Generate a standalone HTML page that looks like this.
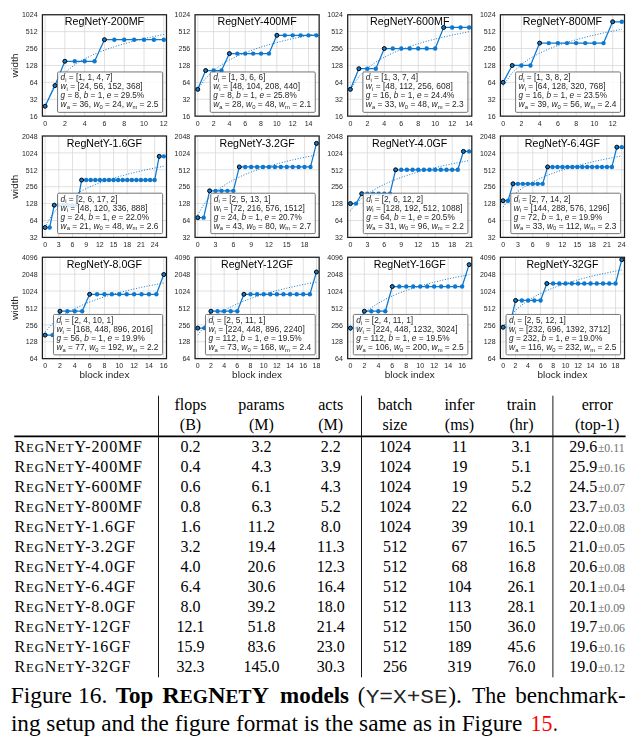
<!DOCTYPE html>
<html><head><meta charset="utf-8"><title>Figure 16</title>
<style>
html,body{margin:0;padding:0;background:#fff;}
svg{display:block;}
text{font-family:"Liberation Sans",sans-serif;fill:#111;}
.gr{stroke:#d6d6d6;stroke-width:.75;fill:none}
.dt{fill:none;stroke:#0e78cf;stroke-width:1;stroke-dasharray:1 1.7}
.ln{fill:none;stroke:#0e78cf;stroke-width:1.25;stroke-linejoin:round}
.mk{fill:#0e78cf;stroke:#000;stroke-width:1}
.mb{fill:#0e78cf}
.sp{fill:none;stroke:#1c1c1c;stroke-width:1.25}
.lb{fill:#fff;fill-opacity:.85;stroke:#666;stroke-width:.9}
.tt{font-size:10.2px;text-anchor:middle;fill:#000}
.tk{font-size:6.5px;text-anchor:middle;fill:#262626}
.te{text-anchor:end}
.al{font-size:8.8px;text-anchor:middle;fill:#1c1c1c}
.lg{font-size:8.2px;fill:#262626}
.it{font-style:italic}
.sb{font-size:5.7px}
.tb,.cp,.pm{font-family:"Liberation Serif",serif;fill:#000}
.tb{font-size:16px}
.m{text-anchor:middle}
.e{text-anchor:end}
.sc{font-size:12.8px}
.pm{font-size:11.8px;fill:#707070}
.hr{stroke:#000;stroke-width:1.9;fill:none}
.vr{stroke:#1a1a1a;stroke-width:1;fill:none}
.cp{font-size:23.5px}
.bd{font-weight:bold}
.sc2{font-size:18.8px}
.mn{font-family:"Liberation Mono",monospace;font-size:19.6px;fill:#262626}
.rd{fill:#f00}
</style></head>
<body>
<svg width="642" height="388" viewBox="0 0 642 388" style="will-change:opacity">
<g>
<path class="gr" d="M45.1 14.75V116.15M64.88 14.75V116.15M84.67 14.75V116.15M104.45 14.75V116.15M124.23 14.75V116.15M144.02 14.75V116.15M163.8 14.75V116.15M42.4 99.25H166.5M42.4 82.35H166.5M42.4 65.45H166.5M42.4 48.55H166.5M42.4 31.65H166.5"/>
<polyline class="dt" points="45.1,106.26 54.99,83.92 64.88,72.46 74.78,64.7 84.67,58.82 94.56,54.09 104.45,50.12 114.34,46.72 124.23,43.73 134.12,41.06 144.02,38.66 153.91,36.48 163.8,34.47"/>
<polyline class="ln" points="45.1,106.26 54.99,85.61 64.88,61.26 74.78,61.26 84.67,61.26 94.56,61.26 104.45,39.7 114.34,39.7 124.23,39.7 134.12,39.7 144.02,39.7 153.91,39.7 163.8,39.7"/>
<circle class="mk" cx="45.1" cy="106.26" r="2"/>
<circle class="mk" cx="54.99" cy="85.61" r="2"/>
<circle class="mk" cx="64.88" cy="61.26" r="2"/>
<circle class="mb" cx="74.78" cy="61.26" r="2.2"/>
<circle class="mb" cx="84.67" cy="61.26" r="2.2"/>
<circle class="mb" cx="94.56" cy="61.26" r="2.2"/>
<circle class="mk" cx="104.45" cy="39.7" r="2"/>
<circle class="mb" cx="114.34" cy="39.7" r="2.2"/>
<circle class="mb" cx="124.23" cy="39.7" r="2.2"/>
<circle class="mb" cx="134.12" cy="39.7" r="2.2"/>
<circle class="mb" cx="144.02" cy="39.7" r="2.2"/>
<circle class="mb" cx="153.91" cy="39.7" r="2.2"/>
<circle class="mb" cx="163.8" cy="39.7" r="2.2"/>
<rect class="lb" x="57.58" y="71.95" width="105.02" height="40.4" rx="1.2" ry="1.2"/>
<text class="lg" x="60.58" y="80.45" textLength="52.11" lengthAdjust="spacingAndGlyphs"><tspan class="it">d</tspan><tspan class="sb" dy="1.6">i</tspan><tspan dy="-1.6"> = [1, 1, 4, 7]</tspan></text>
<text class="lg" x="60.58" y="89.45" textLength="82.11" lengthAdjust="spacingAndGlyphs"><tspan class="it">w</tspan><tspan class="sb" dy="1.6">i</tspan><tspan dy="-1.6"> = [24, 56, 152, 368]</tspan></text>
<text class="lg" x="60.58" y="98.45" textLength="83.59" lengthAdjust="spacingAndGlyphs"><tspan class="it">g</tspan> = 8, <tspan class="it">b</tspan> = 1, <tspan class="it">e</tspan> = 29.5%</text>
<text class="lg" x="60.58" y="107.45" textLength="97.92" lengthAdjust="spacingAndGlyphs"><tspan class="it">w</tspan><tspan class="sb" dy="1.6">a</tspan><tspan dy="-1.6"> = 36, </tspan><tspan class="it">w</tspan><tspan class="sb" dy="1.6">0</tspan><tspan dy="-1.6"> = 24, </tspan><tspan class="it">w</tspan><tspan class="sb" dy="1.6">m</tspan><tspan dy="-1.6"> = 2.5</tspan></text>
<rect class="sp" x="42.4" y="14.75" width="124.1" height="101.4"/>
<text class="tt" x="104.45" y="25.35" textLength="79.34" lengthAdjust="spacingAndGlyphs">RegNetY-200MF</text>
<text class="tk te" x="37.6" y="118.85" textLength="7.83" lengthAdjust="spacingAndGlyphs">16</text>
<text class="tk te" x="37.6" y="101.95" textLength="7.83" lengthAdjust="spacingAndGlyphs">32</text>
<text class="tk te" x="37.6" y="85.05" textLength="7.83" lengthAdjust="spacingAndGlyphs">64</text>
<text class="tk te" x="37.6" y="68.15" textLength="11.74" lengthAdjust="spacingAndGlyphs">128</text>
<text class="tk te" x="37.6" y="51.25" textLength="11.74" lengthAdjust="spacingAndGlyphs">256</text>
<text class="tk te" x="37.6" y="34.35" textLength="11.74" lengthAdjust="spacingAndGlyphs">512</text>
<text class="tk te" x="37.6" y="17.45" textLength="15.65" lengthAdjust="spacingAndGlyphs">1024</text>
<text class="tk" x="45.1" y="125.55" textLength="3.91" lengthAdjust="spacingAndGlyphs">0</text>
<text class="tk" x="64.88" y="125.55" textLength="3.91" lengthAdjust="spacingAndGlyphs">2</text>
<text class="tk" x="84.67" y="125.55" textLength="3.91" lengthAdjust="spacingAndGlyphs">4</text>
<text class="tk" x="104.45" y="125.55" textLength="3.91" lengthAdjust="spacingAndGlyphs">6</text>
<text class="tk" x="124.23" y="125.55" textLength="3.91" lengthAdjust="spacingAndGlyphs">8</text>
<text class="tk" x="144.02" y="125.55" textLength="7.83" lengthAdjust="spacingAndGlyphs">10</text>
<text class="tk" x="163.8" y="125.55" textLength="7.83" lengthAdjust="spacingAndGlyphs">12</text>
<text class="al" transform="translate(18.3 65.45) rotate(-90)" textLength="24.12" lengthAdjust="spacingAndGlyphs">width</text>
</g>
<g>
<path class="gr" d="M197.75 14.75V116.15M213.58 14.75V116.15M229.4 14.75V116.15M245.23 14.75V116.15M261.06 14.75V116.15M276.88 14.75V116.15M292.71 14.75V116.15M308.54 14.75V116.15M195.05 99.25H319.15M195.05 82.35H319.15M195.05 65.45H319.15M195.05 48.55H319.15M195.05 31.65H319.15"/>
<polyline class="dt" points="197.75,89.36 205.66,78.16 213.58,70.51 221.49,64.7 229.4,60.01 237.32,56.08 245.23,52.69 253.14,49.72 261.06,47.07 268.97,44.68 276.88,42.51 284.8,40.51 292.71,38.66 300.62,36.95 308.54,35.35 316.45,33.84"/>
<polyline class="ln" points="197.75,89.36 205.66,70.51 213.58,70.51 221.49,70.51 229.4,53.61 237.32,53.61 245.23,53.61 253.14,53.61 261.06,53.61 268.97,53.61 276.88,35.35 284.8,35.35 292.71,35.35 300.62,35.35 308.54,35.35 316.45,35.35"/>
<circle class="mk" cx="197.75" cy="89.36" r="2"/>
<circle class="mk" cx="205.66" cy="70.51" r="2"/>
<circle class="mb" cx="213.58" cy="70.51" r="2.2"/>
<circle class="mb" cx="221.49" cy="70.51" r="2.2"/>
<circle class="mk" cx="229.4" cy="53.61" r="2"/>
<circle class="mb" cx="237.32" cy="53.61" r="2.2"/>
<circle class="mb" cx="245.23" cy="53.61" r="2.2"/>
<circle class="mb" cx="253.14" cy="53.61" r="2.2"/>
<circle class="mb" cx="261.06" cy="53.61" r="2.2"/>
<circle class="mb" cx="268.97" cy="53.61" r="2.2"/>
<circle class="mk" cx="276.88" cy="35.35" r="2"/>
<circle class="mb" cx="284.8" cy="35.35" r="2.2"/>
<circle class="mb" cx="292.71" cy="35.35" r="2.2"/>
<circle class="mb" cx="300.62" cy="35.35" r="2.2"/>
<circle class="mb" cx="308.54" cy="35.35" r="2.2"/>
<circle class="mb" cx="316.45" cy="35.35" r="2.2"/>
<rect class="lb" x="210.23" y="71.95" width="105.02" height="40.4" rx="1.2" ry="1.2"/>
<text class="lg" x="213.23" y="80.45" textLength="52.11" lengthAdjust="spacingAndGlyphs"><tspan class="it">d</tspan><tspan class="sb" dy="1.6">i</tspan><tspan dy="-1.6"> = [1, 3, 6, 6]</tspan></text>
<text class="lg" x="213.23" y="89.45" textLength="86.89" lengthAdjust="spacingAndGlyphs"><tspan class="it">w</tspan><tspan class="sb" dy="1.6">i</tspan><tspan dy="-1.6"> = [48, 104, 208, 440]</tspan></text>
<text class="lg" x="213.23" y="98.45" textLength="83.52" lengthAdjust="spacingAndGlyphs"><tspan class="it">g</tspan> = 8, <tspan class="it">b</tspan> = 1, <tspan class="it">e</tspan> = 25.8%</text>
<text class="lg" x="213.23" y="107.45" textLength="97.92" lengthAdjust="spacingAndGlyphs"><tspan class="it">w</tspan><tspan class="sb" dy="1.6">a</tspan><tspan dy="-1.6"> = 28, </tspan><tspan class="it">w</tspan><tspan class="sb" dy="1.6">0</tspan><tspan dy="-1.6"> = 48, </tspan><tspan class="it">w</tspan><tspan class="sb" dy="1.6">m</tspan><tspan dy="-1.6"> = 2.1</tspan></text>
<rect class="sp" x="195.05" y="14.75" width="124.1" height="101.4"/>
<text class="tt" x="257.1" y="25.35" textLength="79.34" lengthAdjust="spacingAndGlyphs">RegNetY-400MF</text>
<text class="tk te" x="190.25" y="118.85" textLength="7.83" lengthAdjust="spacingAndGlyphs">16</text>
<text class="tk te" x="190.25" y="101.95" textLength="7.83" lengthAdjust="spacingAndGlyphs">32</text>
<text class="tk te" x="190.25" y="85.05" textLength="7.83" lengthAdjust="spacingAndGlyphs">64</text>
<text class="tk te" x="190.25" y="68.15" textLength="11.74" lengthAdjust="spacingAndGlyphs">128</text>
<text class="tk te" x="190.25" y="51.25" textLength="11.74" lengthAdjust="spacingAndGlyphs">256</text>
<text class="tk te" x="190.25" y="34.35" textLength="11.74" lengthAdjust="spacingAndGlyphs">512</text>
<text class="tk te" x="190.25" y="17.45" textLength="15.65" lengthAdjust="spacingAndGlyphs">1024</text>
<text class="tk" x="197.75" y="125.55" textLength="3.91" lengthAdjust="spacingAndGlyphs">0</text>
<text class="tk" x="213.58" y="125.55" textLength="3.91" lengthAdjust="spacingAndGlyphs">2</text>
<text class="tk" x="229.4" y="125.55" textLength="3.91" lengthAdjust="spacingAndGlyphs">4</text>
<text class="tk" x="245.23" y="125.55" textLength="3.91" lengthAdjust="spacingAndGlyphs">6</text>
<text class="tk" x="261.06" y="125.55" textLength="3.91" lengthAdjust="spacingAndGlyphs">8</text>
<text class="tk" x="276.88" y="125.55" textLength="7.83" lengthAdjust="spacingAndGlyphs">10</text>
<text class="tk" x="292.71" y="125.55" textLength="7.83" lengthAdjust="spacingAndGlyphs">12</text>
<text class="tk" x="308.54" y="125.55" textLength="7.83" lengthAdjust="spacingAndGlyphs">14</text>
</g>
<g>
<path class="gr" d="M350.4 14.75V116.15M367.36 14.75V116.15M384.31 14.75V116.15M401.27 14.75V116.15M418.23 14.75V116.15M435.19 14.75V116.15M452.14 14.75V116.15M469.1 14.75V116.15M347.7 99.25H471.8M347.7 82.35H471.8M347.7 65.45H471.8M347.7 48.55H471.8M347.7 31.65H471.8"/>
<polyline class="dt" points="350.4,89.36 358.88,76.61 367.36,68.27 375.84,62.08 384.31,57.14 392.79,53.03 401.27,49.52 409.75,46.45 418.23,43.73 426.71,41.28 435.19,39.05 443.66,37.01 452.14,35.12 460.62,33.38 469.1,31.75"/>
<polyline class="ln" points="350.4,89.36 358.88,68.71 367.36,68.71 375.84,68.71 384.31,48.55 392.79,48.55 401.27,48.55 409.75,48.55 418.23,48.55 426.71,48.55 435.19,48.55 443.66,27.46 452.14,27.46 460.62,27.46 469.1,27.46"/>
<circle class="mk" cx="350.4" cy="89.36" r="2"/>
<circle class="mk" cx="358.88" cy="68.71" r="2"/>
<circle class="mb" cx="367.36" cy="68.71" r="2.2"/>
<circle class="mb" cx="375.84" cy="68.71" r="2.2"/>
<circle class="mk" cx="384.31" cy="48.55" r="2"/>
<circle class="mb" cx="392.79" cy="48.55" r="2.2"/>
<circle class="mb" cx="401.27" cy="48.55" r="2.2"/>
<circle class="mb" cx="409.75" cy="48.55" r="2.2"/>
<circle class="mb" cx="418.23" cy="48.55" r="2.2"/>
<circle class="mb" cx="426.71" cy="48.55" r="2.2"/>
<circle class="mb" cx="435.19" cy="48.55" r="2.2"/>
<circle class="mk" cx="443.66" cy="27.46" r="2"/>
<circle class="mb" cx="452.14" cy="27.46" r="2.2"/>
<circle class="mb" cx="460.62" cy="27.46" r="2.2"/>
<circle class="mb" cx="469.1" cy="27.46" r="2.2"/>
<rect class="lb" x="362.88" y="71.95" width="105.02" height="40.4" rx="1.2" ry="1.2"/>
<text class="lg" x="365.88" y="80.45" textLength="52.11" lengthAdjust="spacingAndGlyphs"><tspan class="it">d</tspan><tspan class="sb" dy="1.6">i</tspan><tspan dy="-1.6"> = [1, 3, 7, 4]</tspan></text>
<text class="lg" x="365.88" y="89.45" textLength="86.89" lengthAdjust="spacingAndGlyphs"><tspan class="it">w</tspan><tspan class="sb" dy="1.6">i</tspan><tspan dy="-1.6"> = [48, 112, 256, 608]</tspan></text>
<text class="lg" x="365.88" y="98.45" textLength="88.49" lengthAdjust="spacingAndGlyphs"><tspan class="it">g</tspan> = 16, <tspan class="it">b</tspan> = 1, <tspan class="it">e</tspan> = 24.4%</text>
<text class="lg" x="365.88" y="107.45" textLength="97.92" lengthAdjust="spacingAndGlyphs"><tspan class="it">w</tspan><tspan class="sb" dy="1.6">a</tspan><tspan dy="-1.6"> = 33, </tspan><tspan class="it">w</tspan><tspan class="sb" dy="1.6">0</tspan><tspan dy="-1.6"> = 48, </tspan><tspan class="it">w</tspan><tspan class="sb" dy="1.6">m</tspan><tspan dy="-1.6"> = 2.3</tspan></text>
<rect class="sp" x="347.7" y="14.75" width="124.1" height="101.4"/>
<text class="tt" x="409.75" y="25.35" textLength="79.34" lengthAdjust="spacingAndGlyphs">RegNetY-600MF</text>
<text class="tk te" x="342.9" y="118.85" textLength="7.83" lengthAdjust="spacingAndGlyphs">16</text>
<text class="tk te" x="342.9" y="101.95" textLength="7.83" lengthAdjust="spacingAndGlyphs">32</text>
<text class="tk te" x="342.9" y="85.05" textLength="7.83" lengthAdjust="spacingAndGlyphs">64</text>
<text class="tk te" x="342.9" y="68.15" textLength="11.74" lengthAdjust="spacingAndGlyphs">128</text>
<text class="tk te" x="342.9" y="51.25" textLength="11.74" lengthAdjust="spacingAndGlyphs">256</text>
<text class="tk te" x="342.9" y="34.35" textLength="11.74" lengthAdjust="spacingAndGlyphs">512</text>
<text class="tk te" x="342.9" y="17.45" textLength="15.65" lengthAdjust="spacingAndGlyphs">1024</text>
<text class="tk" x="350.4" y="125.55" textLength="3.91" lengthAdjust="spacingAndGlyphs">0</text>
<text class="tk" x="367.36" y="125.55" textLength="3.91" lengthAdjust="spacingAndGlyphs">2</text>
<text class="tk" x="384.31" y="125.55" textLength="3.91" lengthAdjust="spacingAndGlyphs">4</text>
<text class="tk" x="401.27" y="125.55" textLength="3.91" lengthAdjust="spacingAndGlyphs">6</text>
<text class="tk" x="418.23" y="125.55" textLength="3.91" lengthAdjust="spacingAndGlyphs">8</text>
<text class="tk" x="435.19" y="125.55" textLength="7.83" lengthAdjust="spacingAndGlyphs">10</text>
<text class="tk" x="452.14" y="125.55" textLength="7.83" lengthAdjust="spacingAndGlyphs">12</text>
<text class="tk" x="469.1" y="125.55" textLength="7.83" lengthAdjust="spacingAndGlyphs">14</text>
</g>
<g>
<path class="gr" d="M503.1 14.75V116.15M521.36 14.75V116.15M539.62 14.75V116.15M557.88 14.75V116.15M576.15 14.75V116.15M594.41 14.75V116.15M612.67 14.75V116.15M500.4 99.25H624.5M500.4 82.35H624.5M500.4 65.45H624.5M500.4 48.55H624.5M500.4 31.65H624.5"/>
<polyline class="dt" points="503.1,85.61 512.23,72.72 521.36,64.33 530.49,58.1 539.62,53.15 548.75,49.03 557.88,45.51 567.02,42.43 576.15,39.7 585.28,37.25 594.41,35.01 603.54,32.97 612.67,31.09 621.8,29.33"/>
<polyline class="ln" points="503.1,82.35 512.23,65.45 521.36,65.45 530.49,65.45 539.62,43.11 548.75,43.11 557.88,43.11 567.02,43.11 576.15,43.11 585.28,43.11 594.41,43.11 603.54,43.11 612.67,21.76 621.8,21.76"/>
<circle class="mk" cx="503.1" cy="82.35" r="2"/>
<circle class="mk" cx="512.23" cy="65.45" r="2"/>
<circle class="mb" cx="521.36" cy="65.45" r="2.2"/>
<circle class="mb" cx="530.49" cy="65.45" r="2.2"/>
<circle class="mk" cx="539.62" cy="43.11" r="2"/>
<circle class="mb" cx="548.75" cy="43.11" r="2.2"/>
<circle class="mb" cx="557.88" cy="43.11" r="2.2"/>
<circle class="mb" cx="567.02" cy="43.11" r="2.2"/>
<circle class="mb" cx="576.15" cy="43.11" r="2.2"/>
<circle class="mb" cx="585.28" cy="43.11" r="2.2"/>
<circle class="mb" cx="594.41" cy="43.11" r="2.2"/>
<circle class="mb" cx="603.54" cy="43.11" r="2.2"/>
<circle class="mk" cx="612.67" cy="21.76" r="2"/>
<circle class="mb" cx="621.8" cy="21.76" r="2.2"/>
<rect class="lb" x="515.58" y="71.95" width="105.02" height="40.4" rx="1.2" ry="1.2"/>
<text class="lg" x="518.58" y="80.45" textLength="52.11" lengthAdjust="spacingAndGlyphs"><tspan class="it">d</tspan><tspan class="sb" dy="1.6">i</tspan><tspan dy="-1.6"> = [1, 3, 8, 2]</tspan></text>
<text class="lg" x="518.58" y="89.45" textLength="86.89" lengthAdjust="spacingAndGlyphs"><tspan class="it">w</tspan><tspan class="sb" dy="1.6">i</tspan><tspan dy="-1.6"> = [64, 128, 320, 768]</tspan></text>
<text class="lg" x="518.58" y="98.45" textLength="88.49" lengthAdjust="spacingAndGlyphs"><tspan class="it">g</tspan> = 16, <tspan class="it">b</tspan> = 1, <tspan class="it">e</tspan> = 23.5%</text>
<text class="lg" x="518.58" y="107.45" textLength="97.92" lengthAdjust="spacingAndGlyphs"><tspan class="it">w</tspan><tspan class="sb" dy="1.6">a</tspan><tspan dy="-1.6"> = 39, </tspan><tspan class="it">w</tspan><tspan class="sb" dy="1.6">0</tspan><tspan dy="-1.6"> = 56, </tspan><tspan class="it">w</tspan><tspan class="sb" dy="1.6">m</tspan><tspan dy="-1.6"> = 2.4</tspan></text>
<rect class="sp" x="500.4" y="14.75" width="124.1" height="101.4"/>
<text class="tt" x="562.45" y="25.35" textLength="79.34" lengthAdjust="spacingAndGlyphs">RegNetY-800MF</text>
<text class="tk te" x="495.6" y="118.85" textLength="7.83" lengthAdjust="spacingAndGlyphs">16</text>
<text class="tk te" x="495.6" y="101.95" textLength="7.83" lengthAdjust="spacingAndGlyphs">32</text>
<text class="tk te" x="495.6" y="85.05" textLength="7.83" lengthAdjust="spacingAndGlyphs">64</text>
<text class="tk te" x="495.6" y="68.15" textLength="11.74" lengthAdjust="spacingAndGlyphs">128</text>
<text class="tk te" x="495.6" y="51.25" textLength="11.74" lengthAdjust="spacingAndGlyphs">256</text>
<text class="tk te" x="495.6" y="34.35" textLength="11.74" lengthAdjust="spacingAndGlyphs">512</text>
<text class="tk te" x="495.6" y="17.45" textLength="15.65" lengthAdjust="spacingAndGlyphs">1024</text>
<text class="tk" x="503.1" y="125.55" textLength="3.91" lengthAdjust="spacingAndGlyphs">0</text>
<text class="tk" x="521.36" y="125.55" textLength="3.91" lengthAdjust="spacingAndGlyphs">2</text>
<text class="tk" x="539.62" y="125.55" textLength="3.91" lengthAdjust="spacingAndGlyphs">4</text>
<text class="tk" x="557.88" y="125.55" textLength="3.91" lengthAdjust="spacingAndGlyphs">6</text>
<text class="tk" x="576.15" y="125.55" textLength="3.91" lengthAdjust="spacingAndGlyphs">8</text>
<text class="tk" x="594.41" y="125.55" textLength="7.83" lengthAdjust="spacingAndGlyphs">10</text>
<text class="tk" x="612.67" y="125.55" textLength="7.83" lengthAdjust="spacingAndGlyphs">12</text>
</g>
<g>
<path class="gr" d="M45.1 136V237.4M58.8 136V237.4M72.49 136V237.4M86.19 136V237.4M99.88 136V237.4M113.58 136V237.4M127.28 136V237.4M140.97 136V237.4M154.67 136V237.4M42.4 220.5H166.5M42.4 203.6H166.5M42.4 186.7H166.5M42.4 169.8H166.5M42.4 152.9H166.5"/>
<polyline class="dt" points="45.1,227.51 49.67,218.67 54.23,212.19 58.8,207.07 63.36,202.85 67.93,199.25 72.49,196.11 77.06,193.34 81.62,190.84 86.19,188.58 90.75,186.51 95.32,184.6 99.88,182.83 104.45,181.18 109.02,179.64 113.58,178.19 118.15,176.81 122.71,175.52 127.28,174.28 131.84,173.11 136.41,171.99 140.97,170.92 145.54,169.9 150.1,168.91 154.67,167.97 159.23,167.06 163.8,166.18"/>
<polyline class="ln" points="45.1,227.51 49.67,227.51 54.23,205.17 58.8,205.17 63.36,205.17 67.93,205.17 72.49,205.17 77.06,205.17 81.62,180.07 86.19,180.07 90.75,180.07 95.32,180.07 99.88,180.07 104.45,180.07 109.02,180.07 113.58,180.07 118.15,180.07 122.71,180.07 127.28,180.07 131.84,180.07 136.41,180.07 140.97,180.07 145.54,180.07 150.1,180.07 154.67,180.07 159.23,156.37 163.8,156.37"/>
<circle class="mk" cx="45.1" cy="227.51" r="2"/>
<circle class="mb" cx="49.67" cy="227.51" r="2.2"/>
<circle class="mk" cx="54.23" cy="205.17" r="2"/>
<circle class="mb" cx="58.8" cy="205.17" r="2.2"/>
<circle class="mb" cx="63.36" cy="205.17" r="2.2"/>
<circle class="mb" cx="67.93" cy="205.17" r="2.2"/>
<circle class="mb" cx="72.49" cy="205.17" r="2.2"/>
<circle class="mb" cx="77.06" cy="205.17" r="2.2"/>
<circle class="mk" cx="81.62" cy="180.07" r="2"/>
<circle class="mb" cx="86.19" cy="180.07" r="2.2"/>
<circle class="mb" cx="90.75" cy="180.07" r="2.2"/>
<circle class="mb" cx="95.32" cy="180.07" r="2.2"/>
<circle class="mb" cx="99.88" cy="180.07" r="2.2"/>
<circle class="mb" cx="104.45" cy="180.07" r="2.2"/>
<circle class="mb" cx="109.02" cy="180.07" r="2.2"/>
<circle class="mb" cx="113.58" cy="180.07" r="2.2"/>
<circle class="mb" cx="118.15" cy="180.07" r="2.2"/>
<circle class="mb" cx="122.71" cy="180.07" r="2.2"/>
<circle class="mb" cx="127.28" cy="180.07" r="2.2"/>
<circle class="mb" cx="131.84" cy="180.07" r="2.2"/>
<circle class="mb" cx="136.41" cy="180.07" r="2.2"/>
<circle class="mb" cx="140.97" cy="180.07" r="2.2"/>
<circle class="mb" cx="145.54" cy="180.07" r="2.2"/>
<circle class="mb" cx="150.1" cy="180.07" r="2.2"/>
<circle class="mb" cx="154.67" cy="180.07" r="2.2"/>
<circle class="mk" cx="159.23" cy="156.37" r="2"/>
<circle class="mb" cx="163.8" cy="156.37" r="2.2"/>
<rect class="lb" x="57.58" y="193.2" width="105.02" height="40.4" rx="1.2" ry="1.2"/>
<text class="lg" x="60.58" y="201.7" textLength="56.88" lengthAdjust="spacingAndGlyphs"><tspan class="it">d</tspan><tspan class="sb" dy="1.6">i</tspan><tspan dy="-1.6"> = [2, 6, 17, 2]</tspan></text>
<text class="lg" x="60.58" y="210.7" textLength="86.89" lengthAdjust="spacingAndGlyphs"><tspan class="it">w</tspan><tspan class="sb" dy="1.6">i</tspan><tspan dy="-1.6"> = [48, 120, 336, 888]</tspan></text>
<text class="lg" x="60.58" y="219.7" textLength="88.49" lengthAdjust="spacingAndGlyphs"><tspan class="it">g</tspan> = 24, <tspan class="it">b</tspan> = 1, <tspan class="it">e</tspan> = 22.0%</text>
<text class="lg" x="60.58" y="228.7" textLength="97.92" lengthAdjust="spacingAndGlyphs"><tspan class="it">w</tspan><tspan class="sb" dy="1.6">a</tspan><tspan dy="-1.6"> = 21, </tspan><tspan class="it">w</tspan><tspan class="sb" dy="1.6">0</tspan><tspan dy="-1.6"> = 48, </tspan><tspan class="it">w</tspan><tspan class="sb" dy="1.6">m</tspan><tspan dy="-1.6"> = 2.6</tspan></text>
<rect class="sp" x="42.4" y="136" width="124.1" height="101.4"/>
<text class="tt" x="104.45" y="146.6" textLength="75.23" lengthAdjust="spacingAndGlyphs">RegNetY-1.6GF</text>
<text class="tk te" x="37.6" y="240.1" textLength="7.83" lengthAdjust="spacingAndGlyphs">32</text>
<text class="tk te" x="37.6" y="223.2" textLength="7.83" lengthAdjust="spacingAndGlyphs">64</text>
<text class="tk te" x="37.6" y="206.3" textLength="11.74" lengthAdjust="spacingAndGlyphs">128</text>
<text class="tk te" x="37.6" y="189.4" textLength="11.74" lengthAdjust="spacingAndGlyphs">256</text>
<text class="tk te" x="37.6" y="172.5" textLength="11.74" lengthAdjust="spacingAndGlyphs">512</text>
<text class="tk te" x="37.6" y="155.6" textLength="15.65" lengthAdjust="spacingAndGlyphs">1024</text>
<text class="tk te" x="37.6" y="138.7" textLength="15.65" lengthAdjust="spacingAndGlyphs">2048</text>
<text class="tk" x="45.1" y="246.8" textLength="3.91" lengthAdjust="spacingAndGlyphs">0</text>
<text class="tk" x="58.8" y="246.8" textLength="3.91" lengthAdjust="spacingAndGlyphs">3</text>
<text class="tk" x="72.49" y="246.8" textLength="3.91" lengthAdjust="spacingAndGlyphs">6</text>
<text class="tk" x="86.19" y="246.8" textLength="3.91" lengthAdjust="spacingAndGlyphs">9</text>
<text class="tk" x="99.88" y="246.8" textLength="7.83" lengthAdjust="spacingAndGlyphs">12</text>
<text class="tk" x="113.58" y="246.8" textLength="7.83" lengthAdjust="spacingAndGlyphs">15</text>
<text class="tk" x="127.28" y="246.8" textLength="7.83" lengthAdjust="spacingAndGlyphs">18</text>
<text class="tk" x="140.97" y="246.8" textLength="7.83" lengthAdjust="spacingAndGlyphs">21</text>
<text class="tk" x="154.67" y="246.8" textLength="7.83" lengthAdjust="spacingAndGlyphs">24</text>
<text class="al" transform="translate(18.3 186.7) rotate(-90)" textLength="24.12" lengthAdjust="spacingAndGlyphs">width</text>
</g>
<g>
<path class="gr" d="M197.75 136V237.4M215.56 136V237.4M233.36 136V237.4M251.16 136V237.4M268.97 136V237.4M286.77 136V237.4M304.58 136V237.4M195.05 220.5H319.15M195.05 203.6H319.15M195.05 186.7H319.15M195.05 169.8H319.15M195.05 152.9H319.15"/>
<polyline class="dt" points="197.75,215.06 203.69,204.57 209.62,197.26 215.56,191.65 221.49,187.08 227.43,183.24 233.36,179.93 239.29,177.01 245.23,174.4 251.16,172.04 257.1,169.9 263.03,167.92 268.97,166.1 274.9,164.4 280.84,162.81 286.77,161.32 292.71,159.91 298.64,158.59 304.58,157.33 310.51,156.13 316.45,154.99"/>
<polyline class="ln" points="197.75,217.63 203.69,217.63 209.62,190.84 215.56,190.84 221.49,190.84 227.43,190.84 233.36,190.84 239.29,166.93 245.23,166.93 251.16,166.93 257.1,166.93 263.03,166.93 268.97,166.93 274.9,166.93 280.84,166.93 286.77,166.93 292.71,166.93 298.64,166.93 304.58,166.93 310.51,166.93 316.45,143.4"/>
<circle class="mk" cx="197.75" cy="217.63" r="2"/>
<circle class="mb" cx="203.69" cy="217.63" r="2.2"/>
<circle class="mk" cx="209.62" cy="190.84" r="2"/>
<circle class="mb" cx="215.56" cy="190.84" r="2.2"/>
<circle class="mb" cx="221.49" cy="190.84" r="2.2"/>
<circle class="mb" cx="227.43" cy="190.84" r="2.2"/>
<circle class="mb" cx="233.36" cy="190.84" r="2.2"/>
<circle class="mk" cx="239.29" cy="166.93" r="2"/>
<circle class="mb" cx="245.23" cy="166.93" r="2.2"/>
<circle class="mb" cx="251.16" cy="166.93" r="2.2"/>
<circle class="mb" cx="257.1" cy="166.93" r="2.2"/>
<circle class="mb" cx="263.03" cy="166.93" r="2.2"/>
<circle class="mb" cx="268.97" cy="166.93" r="2.2"/>
<circle class="mb" cx="274.9" cy="166.93" r="2.2"/>
<circle class="mb" cx="280.84" cy="166.93" r="2.2"/>
<circle class="mb" cx="286.77" cy="166.93" r="2.2"/>
<circle class="mb" cx="292.71" cy="166.93" r="2.2"/>
<circle class="mb" cx="298.64" cy="166.93" r="2.2"/>
<circle class="mb" cx="304.58" cy="166.93" r="2.2"/>
<circle class="mb" cx="310.51" cy="166.93" r="2.2"/>
<circle class="mk" cx="316.45" cy="143.4" r="2"/>
<rect class="lb" x="210.81" y="193.2" width="104.44" height="40.4" rx="1.2" ry="1.2"/>
<text class="lg" x="213.81" y="201.7" textLength="56.88" lengthAdjust="spacingAndGlyphs"><tspan class="it">d</tspan><tspan class="sb" dy="1.6">i</tspan><tspan dy="-1.6"> = [2, 5, 13, 1]</tspan></text>
<text class="lg" x="213.81" y="210.7" textLength="91.11" lengthAdjust="spacingAndGlyphs"><tspan class="it">w</tspan><tspan class="sb" dy="1.6">i</tspan><tspan dy="-1.6"> = [72, 216, 576, 1512]</tspan></text>
<text class="lg" x="213.81" y="219.7" textLength="87.91" lengthAdjust="spacingAndGlyphs"><tspan class="it">g</tspan> = 24, <tspan class="it">b</tspan> = 1, <tspan class="it">e</tspan> = 20.7%</text>
<text class="lg" x="213.81" y="228.7" textLength="97.34" lengthAdjust="spacingAndGlyphs"><tspan class="it">w</tspan><tspan class="sb" dy="1.6">a</tspan><tspan dy="-1.6"> = 43, </tspan><tspan class="it">w</tspan><tspan class="sb" dy="1.6">0</tspan><tspan dy="-1.6"> = 80, </tspan><tspan class="it">w</tspan><tspan class="sb" dy="1.6">m</tspan><tspan dy="-1.6"> = 2.7</tspan></text>
<rect class="sp" x="195.05" y="136" width="124.1" height="101.4"/>
<text class="tt" x="257.1" y="146.6" textLength="75.23" lengthAdjust="spacingAndGlyphs">RegNetY-3.2GF</text>
<text class="tk te" x="190.25" y="240.1" textLength="7.83" lengthAdjust="spacingAndGlyphs">32</text>
<text class="tk te" x="190.25" y="223.2" textLength="7.83" lengthAdjust="spacingAndGlyphs">64</text>
<text class="tk te" x="190.25" y="206.3" textLength="11.74" lengthAdjust="spacingAndGlyphs">128</text>
<text class="tk te" x="190.25" y="189.4" textLength="11.74" lengthAdjust="spacingAndGlyphs">256</text>
<text class="tk te" x="190.25" y="172.5" textLength="11.74" lengthAdjust="spacingAndGlyphs">512</text>
<text class="tk te" x="190.25" y="155.6" textLength="15.65" lengthAdjust="spacingAndGlyphs">1024</text>
<text class="tk te" x="190.25" y="138.7" textLength="15.65" lengthAdjust="spacingAndGlyphs">2048</text>
<text class="tk" x="197.75" y="246.8" textLength="3.91" lengthAdjust="spacingAndGlyphs">0</text>
<text class="tk" x="215.56" y="246.8" textLength="3.91" lengthAdjust="spacingAndGlyphs">3</text>
<text class="tk" x="233.36" y="246.8" textLength="3.91" lengthAdjust="spacingAndGlyphs">6</text>
<text class="tk" x="251.16" y="246.8" textLength="3.91" lengthAdjust="spacingAndGlyphs">9</text>
<text class="tk" x="268.97" y="246.8" textLength="7.83" lengthAdjust="spacingAndGlyphs">12</text>
<text class="tk" x="286.77" y="246.8" textLength="7.83" lengthAdjust="spacingAndGlyphs">15</text>
<text class="tk" x="304.58" y="246.8" textLength="7.83" lengthAdjust="spacingAndGlyphs">18</text>
</g>
<g>
<path class="gr" d="M350.4 136V237.4M367.36 136V237.4M384.31 136V237.4M401.27 136V237.4M418.23 136V237.4M435.19 136V237.4M452.14 136V237.4M469.1 136V237.4M347.7 220.5H471.8M347.7 203.6H471.8M347.7 186.7H471.8M347.7 169.8H471.8M347.7 152.9H471.8"/>
<polyline class="dt" points="350.4,210.61 356.05,203.79 361.7,198.47 367.36,194.1 373.01,190.4 378.66,187.18 384.31,184.34 389.97,181.8 395.62,179.5 401.27,177.39 406.92,175.46 412.58,173.66 418.23,171.99 423.88,170.43 429.53,168.96 435.19,167.57 440.84,166.26 446.49,165.02 452.14,163.83 457.8,162.7 463.45,161.62 469.1,160.59"/>
<polyline class="ln" points="350.4,203.6 356.05,203.6 361.7,193.71 367.36,193.71 373.01,193.71 378.66,193.71 384.31,193.71 389.97,193.71 395.62,169.8 401.27,169.8 406.92,169.8 412.58,169.8 418.23,169.8 423.88,169.8 429.53,169.8 435.19,169.8 440.84,169.8 446.49,169.8 452.14,169.8 457.8,169.8 463.45,151.42 469.1,151.42"/>
<circle class="mk" cx="350.4" cy="203.6" r="2"/>
<circle class="mb" cx="356.05" cy="203.6" r="2.2"/>
<circle class="mk" cx="361.7" cy="193.71" r="2"/>
<circle class="mb" cx="367.36" cy="193.71" r="2.2"/>
<circle class="mb" cx="373.01" cy="193.71" r="2.2"/>
<circle class="mb" cx="378.66" cy="193.71" r="2.2"/>
<circle class="mb" cx="384.31" cy="193.71" r="2.2"/>
<circle class="mb" cx="389.97" cy="193.71" r="2.2"/>
<circle class="mk" cx="395.62" cy="169.8" r="2"/>
<circle class="mb" cx="401.27" cy="169.8" r="2.2"/>
<circle class="mb" cx="406.92" cy="169.8" r="2.2"/>
<circle class="mb" cx="412.58" cy="169.8" r="2.2"/>
<circle class="mb" cx="418.23" cy="169.8" r="2.2"/>
<circle class="mb" cx="423.88" cy="169.8" r="2.2"/>
<circle class="mb" cx="429.53" cy="169.8" r="2.2"/>
<circle class="mb" cx="435.19" cy="169.8" r="2.2"/>
<circle class="mb" cx="440.84" cy="169.8" r="2.2"/>
<circle class="mb" cx="446.49" cy="169.8" r="2.2"/>
<circle class="mb" cx="452.14" cy="169.8" r="2.2"/>
<circle class="mb" cx="457.8" cy="169.8" r="2.2"/>
<circle class="mk" cx="463.45" cy="151.42" r="2"/>
<circle class="mb" cx="469.1" cy="151.42" r="2.2"/>
<rect class="lb" x="363.29" y="193.2" width="104.61" height="40.4" rx="1.2" ry="1.2"/>
<text class="lg" x="366.29" y="201.7" textLength="56.88" lengthAdjust="spacingAndGlyphs"><tspan class="it">d</tspan><tspan class="sb" dy="1.6">i</tspan><tspan dy="-1.6"> = [2, 6, 12, 2]</tspan></text>
<text class="lg" x="366.29" y="210.7" textLength="96.3" lengthAdjust="spacingAndGlyphs"><tspan class="it">w</tspan><tspan class="sb" dy="1.6">i</tspan><tspan dy="-1.6"> = [128, 192, 512, 1088]</tspan></text>
<text class="lg" x="366.29" y="219.7" textLength="88.49" lengthAdjust="spacingAndGlyphs"><tspan class="it">g</tspan> = 64, <tspan class="it">b</tspan> = 1, <tspan class="it">e</tspan> = 20.5%</text>
<text class="lg" x="366.29" y="228.7" textLength="97.51" lengthAdjust="spacingAndGlyphs"><tspan class="it">w</tspan><tspan class="sb" dy="1.6">a</tspan><tspan dy="-1.6"> = 31, </tspan><tspan class="it">w</tspan><tspan class="sb" dy="1.6">0</tspan><tspan dy="-1.6"> = 96, </tspan><tspan class="it">w</tspan><tspan class="sb" dy="1.6">m</tspan><tspan dy="-1.6"> = 2.2</tspan></text>
<rect class="sp" x="347.7" y="136" width="124.1" height="101.4"/>
<text class="tt" x="409.75" y="146.6" textLength="75.23" lengthAdjust="spacingAndGlyphs">RegNetY-4.0GF</text>
<text class="tk te" x="342.9" y="240.1" textLength="7.83" lengthAdjust="spacingAndGlyphs">32</text>
<text class="tk te" x="342.9" y="223.2" textLength="7.83" lengthAdjust="spacingAndGlyphs">64</text>
<text class="tk te" x="342.9" y="206.3" textLength="11.74" lengthAdjust="spacingAndGlyphs">128</text>
<text class="tk te" x="342.9" y="189.4" textLength="11.74" lengthAdjust="spacingAndGlyphs">256</text>
<text class="tk te" x="342.9" y="172.5" textLength="11.74" lengthAdjust="spacingAndGlyphs">512</text>
<text class="tk te" x="342.9" y="155.6" textLength="15.65" lengthAdjust="spacingAndGlyphs">1024</text>
<text class="tk te" x="342.9" y="138.7" textLength="15.65" lengthAdjust="spacingAndGlyphs">2048</text>
<text class="tk" x="350.4" y="246.8" textLength="3.91" lengthAdjust="spacingAndGlyphs">0</text>
<text class="tk" x="367.36" y="246.8" textLength="3.91" lengthAdjust="spacingAndGlyphs">3</text>
<text class="tk" x="384.31" y="246.8" textLength="3.91" lengthAdjust="spacingAndGlyphs">6</text>
<text class="tk" x="401.27" y="246.8" textLength="3.91" lengthAdjust="spacingAndGlyphs">9</text>
<text class="tk" x="418.23" y="246.8" textLength="7.83" lengthAdjust="spacingAndGlyphs">12</text>
<text class="tk" x="435.19" y="246.8" textLength="7.83" lengthAdjust="spacingAndGlyphs">15</text>
<text class="tk" x="452.14" y="246.8" textLength="7.83" lengthAdjust="spacingAndGlyphs">18</text>
<text class="tk" x="469.1" y="246.8" textLength="7.83" lengthAdjust="spacingAndGlyphs">21</text>
</g>
<g>
<path class="gr" d="M503.1 136V237.4M517.94 136V237.4M532.77 136V237.4M547.61 136V237.4M562.45 136V237.4M577.29 136V237.4M592.12 136V237.4M606.96 136V237.4M621.8 136V237.4M500.4 220.5H624.5M500.4 203.6H624.5M500.4 186.7H624.5M500.4 169.8H624.5M500.4 152.9H624.5"/>
<polyline class="dt" points="503.1,206.86 508.05,200.56 512.99,195.56 517.94,191.41 522.88,187.87 527.83,184.78 532.77,182.03 537.72,179.57 542.67,177.33 547.61,175.28 552.56,173.38 557.5,171.63 562.45,169.99 567.4,168.46 572.34,167.01 577.29,165.65 582.23,164.36 587.18,163.13 592.12,161.97 597.07,160.85 602.02,159.79 606.96,158.77 611.91,157.79 616.85,156.85 621.8,155.94"/>
<polyline class="ln" points="503.1,200.73 508.05,200.73 512.99,183.83 517.94,183.83 522.88,183.83 527.83,183.83 532.77,183.83 537.72,183.83 542.67,183.83 547.61,166.93 552.56,166.93 557.5,166.93 562.45,166.93 567.4,166.93 572.34,166.93 577.29,166.93 582.23,166.93 587.18,166.93 592.12,166.93 597.07,166.93 602.02,166.93 606.96,166.93 611.91,166.93 616.85,147.16 621.8,147.16"/>
<circle class="mk" cx="503.1" cy="200.73" r="2"/>
<circle class="mb" cx="508.05" cy="200.73" r="2.2"/>
<circle class="mk" cx="512.99" cy="183.83" r="2"/>
<circle class="mb" cx="517.94" cy="183.83" r="2.2"/>
<circle class="mb" cx="522.88" cy="183.83" r="2.2"/>
<circle class="mb" cx="527.83" cy="183.83" r="2.2"/>
<circle class="mb" cx="532.77" cy="183.83" r="2.2"/>
<circle class="mb" cx="537.72" cy="183.83" r="2.2"/>
<circle class="mb" cx="542.67" cy="183.83" r="2.2"/>
<circle class="mk" cx="547.61" cy="166.93" r="2"/>
<circle class="mb" cx="552.56" cy="166.93" r="2.2"/>
<circle class="mb" cx="557.5" cy="166.93" r="2.2"/>
<circle class="mb" cx="562.45" cy="166.93" r="2.2"/>
<circle class="mb" cx="567.4" cy="166.93" r="2.2"/>
<circle class="mb" cx="572.34" cy="166.93" r="2.2"/>
<circle class="mb" cx="577.29" cy="166.93" r="2.2"/>
<circle class="mb" cx="582.23" cy="166.93" r="2.2"/>
<circle class="mb" cx="587.18" cy="166.93" r="2.2"/>
<circle class="mb" cx="592.12" cy="166.93" r="2.2"/>
<circle class="mb" cx="597.07" cy="166.93" r="2.2"/>
<circle class="mb" cx="602.02" cy="166.93" r="2.2"/>
<circle class="mb" cx="606.96" cy="166.93" r="2.2"/>
<circle class="mb" cx="611.91" cy="166.93" r="2.2"/>
<circle class="mk" cx="616.85" cy="147.16" r="2"/>
<circle class="mb" cx="621.8" cy="147.16" r="2.2"/>
<rect class="lb" x="510.81" y="193.2" width="109.79" height="40.4" rx="1.2" ry="1.2"/>
<text class="lg" x="513.81" y="201.7" textLength="56.88" lengthAdjust="spacingAndGlyphs"><tspan class="it">d</tspan><tspan class="sb" dy="1.6">i</tspan><tspan dy="-1.6"> = [2, 7, 14, 2]</tspan></text>
<text class="lg" x="513.81" y="210.7" textLength="95.75" lengthAdjust="spacingAndGlyphs"><tspan class="it">w</tspan><tspan class="sb" dy="1.6">i</tspan><tspan dy="-1.6"> = [144, 288, 576, 1296]</tspan></text>
<text class="lg" x="513.81" y="219.7" textLength="88.49" lengthAdjust="spacingAndGlyphs"><tspan class="it">g</tspan> = 72, <tspan class="it">b</tspan> = 1, <tspan class="it">e</tspan> = 19.9%</text>
<text class="lg" x="513.81" y="228.7" textLength="102.69" lengthAdjust="spacingAndGlyphs"><tspan class="it">w</tspan><tspan class="sb" dy="1.6">a</tspan><tspan dy="-1.6"> = 33, </tspan><tspan class="it">w</tspan><tspan class="sb" dy="1.6">0</tspan><tspan dy="-1.6"> = 112, </tspan><tspan class="it">w</tspan><tspan class="sb" dy="1.6">m</tspan><tspan dy="-1.6"> = 2.3</tspan></text>
<rect class="sp" x="500.4" y="136" width="124.1" height="101.4"/>
<text class="tt" x="562.45" y="146.6" textLength="75.23" lengthAdjust="spacingAndGlyphs">RegNetY-6.4GF</text>
<text class="tk te" x="495.6" y="240.1" textLength="7.83" lengthAdjust="spacingAndGlyphs">32</text>
<text class="tk te" x="495.6" y="223.2" textLength="7.83" lengthAdjust="spacingAndGlyphs">64</text>
<text class="tk te" x="495.6" y="206.3" textLength="11.74" lengthAdjust="spacingAndGlyphs">128</text>
<text class="tk te" x="495.6" y="189.4" textLength="11.74" lengthAdjust="spacingAndGlyphs">256</text>
<text class="tk te" x="495.6" y="172.5" textLength="11.74" lengthAdjust="spacingAndGlyphs">512</text>
<text class="tk te" x="495.6" y="155.6" textLength="15.65" lengthAdjust="spacingAndGlyphs">1024</text>
<text class="tk te" x="495.6" y="138.7" textLength="15.65" lengthAdjust="spacingAndGlyphs">2048</text>
<text class="tk" x="503.1" y="246.8" textLength="3.91" lengthAdjust="spacingAndGlyphs">0</text>
<text class="tk" x="517.94" y="246.8" textLength="3.91" lengthAdjust="spacingAndGlyphs">3</text>
<text class="tk" x="532.77" y="246.8" textLength="3.91" lengthAdjust="spacingAndGlyphs">6</text>
<text class="tk" x="547.61" y="246.8" textLength="3.91" lengthAdjust="spacingAndGlyphs">9</text>
<text class="tk" x="562.45" y="246.8" textLength="7.83" lengthAdjust="spacingAndGlyphs">12</text>
<text class="tk" x="577.29" y="246.8" textLength="7.83" lengthAdjust="spacingAndGlyphs">15</text>
<text class="tk" x="592.12" y="246.8" textLength="7.83" lengthAdjust="spacingAndGlyphs">18</text>
<text class="tk" x="606.96" y="246.8" textLength="7.83" lengthAdjust="spacingAndGlyphs">21</text>
<text class="tk" x="621.8" y="246.8" textLength="7.83" lengthAdjust="spacingAndGlyphs">24</text>
</g>
<g>
<path class="gr" d="M45.1 257.25V358.65M59.94 257.25V358.65M74.78 257.25V358.65M89.61 257.25V358.65M104.45 257.25V358.65M119.29 257.25V358.65M134.12 257.25V358.65M148.96 257.25V358.65M163.8 257.25V358.65M42.4 341.75H166.5M42.4 324.85H166.5M42.4 307.95H166.5M42.4 291.05H166.5M42.4 274.15H166.5"/>
<polyline class="dt" points="45.1,331.86 52.52,323.64 59.94,317.5 67.36,312.61 74.78,308.53 82.19,305.04 89.61,301.98 97.03,299.27 104.45,296.83 111.87,294.61 119.29,292.57 126.71,290.7 134.12,288.95 141.54,287.33 148.96,285.8 156.38,284.37 163.8,283.01"/>
<polyline class="ln" points="45.1,335.12 52.52,335.12 59.94,311.21 67.36,311.21 74.78,311.21 82.19,311.21 89.61,294.31 97.03,294.31 104.45,294.31 111.87,294.31 119.29,294.31 126.71,294.31 134.12,294.31 141.54,294.31 148.96,294.31 156.38,294.31 163.8,274.53"/>
<circle class="mk" cx="45.1" cy="335.12" r="2"/>
<circle class="mb" cx="52.52" cy="335.12" r="2.2"/>
<circle class="mk" cx="59.94" cy="311.21" r="2"/>
<circle class="mb" cx="67.36" cy="311.21" r="2.2"/>
<circle class="mb" cx="74.78" cy="311.21" r="2.2"/>
<circle class="mb" cx="82.19" cy="311.21" r="2.2"/>
<circle class="mk" cx="89.61" cy="294.31" r="2"/>
<circle class="mb" cx="97.03" cy="294.31" r="2.2"/>
<circle class="mb" cx="104.45" cy="294.31" r="2.2"/>
<circle class="mb" cx="111.87" cy="294.31" r="2.2"/>
<circle class="mb" cx="119.29" cy="294.31" r="2.2"/>
<circle class="mb" cx="126.71" cy="294.31" r="2.2"/>
<circle class="mb" cx="134.12" cy="294.31" r="2.2"/>
<circle class="mb" cx="141.54" cy="294.31" r="2.2"/>
<circle class="mb" cx="148.96" cy="294.31" r="2.2"/>
<circle class="mb" cx="156.38" cy="294.31" r="2.2"/>
<circle class="mk" cx="163.8" cy="274.53" r="2"/>
<rect class="lb" x="53.48" y="314.45" width="109.12" height="40.4" rx="1.2" ry="1.2"/>
<text class="lg" x="56.48" y="322.95" textLength="56.88" lengthAdjust="spacingAndGlyphs"><tspan class="it">d</tspan><tspan class="sb" dy="1.6">i</tspan><tspan dy="-1.6"> = [2, 4, 10, 1]</tspan></text>
<text class="lg" x="56.48" y="331.95" textLength="96.43" lengthAdjust="spacingAndGlyphs"><tspan class="it">w</tspan><tspan class="sb" dy="1.6">i</tspan><tspan dy="-1.6"> = [168, 448, 896, 2016]</tspan></text>
<text class="lg" x="56.48" y="340.95" textLength="88.49" lengthAdjust="spacingAndGlyphs"><tspan class="it">g</tspan> = 56, <tspan class="it">b</tspan> = 1, <tspan class="it">e</tspan> = 19.9%</text>
<text class="lg" x="56.48" y="349.95" textLength="102.02" lengthAdjust="spacingAndGlyphs"><tspan class="it">w</tspan><tspan class="sb" dy="1.6">a</tspan><tspan dy="-1.6"> = 77, </tspan><tspan class="it">w</tspan><tspan class="sb" dy="1.6">0</tspan><tspan dy="-1.6"> = 192, </tspan><tspan class="it">w</tspan><tspan class="sb" dy="1.6">m</tspan><tspan dy="-1.6"> = 2.2</tspan></text>
<rect class="sp" x="42.4" y="257.25" width="124.1" height="101.4"/>
<text class="tt" x="104.45" y="267.85" textLength="75.23" lengthAdjust="spacingAndGlyphs">RegNetY-8.0GF</text>
<text class="tk te" x="37.6" y="361.35" textLength="7.83" lengthAdjust="spacingAndGlyphs">64</text>
<text class="tk te" x="37.6" y="344.45" textLength="11.74" lengthAdjust="spacingAndGlyphs">128</text>
<text class="tk te" x="37.6" y="327.55" textLength="11.74" lengthAdjust="spacingAndGlyphs">256</text>
<text class="tk te" x="37.6" y="310.65" textLength="11.74" lengthAdjust="spacingAndGlyphs">512</text>
<text class="tk te" x="37.6" y="293.75" textLength="15.65" lengthAdjust="spacingAndGlyphs">1024</text>
<text class="tk te" x="37.6" y="276.85" textLength="15.65" lengthAdjust="spacingAndGlyphs">2048</text>
<text class="tk te" x="37.6" y="259.95" textLength="15.65" lengthAdjust="spacingAndGlyphs">4096</text>
<text class="tk" x="45.1" y="368.05" textLength="3.91" lengthAdjust="spacingAndGlyphs">0</text>
<text class="tk" x="59.94" y="368.05" textLength="3.91" lengthAdjust="spacingAndGlyphs">2</text>
<text class="tk" x="74.78" y="368.05" textLength="3.91" lengthAdjust="spacingAndGlyphs">4</text>
<text class="tk" x="89.61" y="368.05" textLength="3.91" lengthAdjust="spacingAndGlyphs">6</text>
<text class="tk" x="104.45" y="368.05" textLength="3.91" lengthAdjust="spacingAndGlyphs">8</text>
<text class="tk" x="119.29" y="368.05" textLength="7.83" lengthAdjust="spacingAndGlyphs">10</text>
<text class="tk" x="134.12" y="368.05" textLength="7.83" lengthAdjust="spacingAndGlyphs">12</text>
<text class="tk" x="148.96" y="368.05" textLength="7.83" lengthAdjust="spacingAndGlyphs">14</text>
<text class="tk" x="163.8" y="368.05" textLength="7.83" lengthAdjust="spacingAndGlyphs">16</text>
<text class="al" transform="translate(18.3 307.95) rotate(-90)" textLength="24.12" lengthAdjust="spacingAndGlyphs">width</text>
<text class="al" x="104.45" y="377.85" textLength="49.94" lengthAdjust="spacingAndGlyphs">block index</text>
</g>
<g>
<path class="gr" d="M197.75 257.25V358.65M210.94 257.25V358.65M224.13 257.25V358.65M237.32 257.25V358.65M250.51 257.25V358.65M263.69 257.25V358.65M276.88 257.25V358.65M290.07 257.25V358.65M303.26 257.25V358.65M316.45 257.25V358.65M195.05 341.75H319.15M195.05 324.85H319.15M195.05 307.95H319.15M195.05 291.05H319.15M195.05 274.15H319.15"/>
<polyline class="dt" points="197.75,335.12 204.34,326.32 210.94,319.87 217.53,314.77 224.13,310.56 230.72,306.97 237.32,303.84 243.91,301.07 250.51,298.58 257.1,296.32 263.69,294.25 270.29,292.35 276.88,290.58 283.48,288.93 290.07,287.39 296.67,285.94 303.26,284.57 309.86,283.27 316.45,282.04"/>
<polyline class="ln" points="197.75,328.11 204.34,328.11 210.94,311.21 217.53,311.21 224.13,311.21 230.72,311.21 237.32,311.21 243.91,294.31 250.51,294.31 257.1,294.31 263.69,294.31 270.29,294.31 276.88,294.31 283.48,294.31 290.07,294.31 296.67,294.31 303.26,294.31 309.86,294.31 316.45,271.97"/>
<circle class="mk" cx="197.75" cy="328.11" r="2"/>
<circle class="mb" cx="204.34" cy="328.11" r="2.2"/>
<circle class="mk" cx="210.94" cy="311.21" r="2"/>
<circle class="mb" cx="217.53" cy="311.21" r="2.2"/>
<circle class="mb" cx="224.13" cy="311.21" r="2.2"/>
<circle class="mb" cx="230.72" cy="311.21" r="2.2"/>
<circle class="mb" cx="237.32" cy="311.21" r="2.2"/>
<circle class="mk" cx="243.91" cy="294.31" r="2"/>
<circle class="mb" cx="250.51" cy="294.31" r="2.2"/>
<circle class="mb" cx="257.1" cy="294.31" r="2.2"/>
<circle class="mb" cx="263.69" cy="294.31" r="2.2"/>
<circle class="mb" cx="270.29" cy="294.31" r="2.2"/>
<circle class="mb" cx="276.88" cy="294.31" r="2.2"/>
<circle class="mb" cx="283.48" cy="294.31" r="2.2"/>
<circle class="mb" cx="290.07" cy="294.31" r="2.2"/>
<circle class="mb" cx="296.67" cy="294.31" r="2.2"/>
<circle class="mb" cx="303.26" cy="294.31" r="2.2"/>
<circle class="mb" cx="309.86" cy="294.31" r="2.2"/>
<circle class="mk" cx="316.45" cy="271.97" r="2"/>
<rect class="lb" x="205.46" y="314.45" width="109.79" height="40.4" rx="1.2" ry="1.2"/>
<text class="lg" x="208.46" y="322.95" textLength="56.88" lengthAdjust="spacingAndGlyphs"><tspan class="it">d</tspan><tspan class="sb" dy="1.6">i</tspan><tspan dy="-1.6"> = [2, 5, 11, 1]</tspan></text>
<text class="lg" x="208.46" y="331.95" textLength="96.43" lengthAdjust="spacingAndGlyphs"><tspan class="it">w</tspan><tspan class="sb" dy="1.6">i</tspan><tspan dy="-1.6"> = [224, 448, 896, 2240]</tspan></text>
<text class="lg" x="208.46" y="340.95" textLength="93.26" lengthAdjust="spacingAndGlyphs"><tspan class="it">g</tspan> = 112, <tspan class="it">b</tspan> = 1, <tspan class="it">e</tspan> = 19.5%</text>
<text class="lg" x="208.46" y="349.95" textLength="102.69" lengthAdjust="spacingAndGlyphs"><tspan class="it">w</tspan><tspan class="sb" dy="1.6">a</tspan><tspan dy="-1.6"> = 73, </tspan><tspan class="it">w</tspan><tspan class="sb" dy="1.6">0</tspan><tspan dy="-1.6"> = 168, </tspan><tspan class="it">w</tspan><tspan class="sb" dy="1.6">m</tspan><tspan dy="-1.6"> = 2.4</tspan></text>
<rect class="sp" x="195.05" y="257.25" width="124.1" height="101.4"/>
<text class="tt" x="257.1" y="267.85" textLength="72.02" lengthAdjust="spacingAndGlyphs">RegNetY-12GF</text>
<text class="tk te" x="190.25" y="361.35" textLength="7.83" lengthAdjust="spacingAndGlyphs">64</text>
<text class="tk te" x="190.25" y="344.45" textLength="11.74" lengthAdjust="spacingAndGlyphs">128</text>
<text class="tk te" x="190.25" y="327.55" textLength="11.74" lengthAdjust="spacingAndGlyphs">256</text>
<text class="tk te" x="190.25" y="310.65" textLength="11.74" lengthAdjust="spacingAndGlyphs">512</text>
<text class="tk te" x="190.25" y="293.75" textLength="15.65" lengthAdjust="spacingAndGlyphs">1024</text>
<text class="tk te" x="190.25" y="276.85" textLength="15.65" lengthAdjust="spacingAndGlyphs">2048</text>
<text class="tk te" x="190.25" y="259.95" textLength="15.65" lengthAdjust="spacingAndGlyphs">4096</text>
<text class="tk" x="197.75" y="368.05" textLength="3.91" lengthAdjust="spacingAndGlyphs">0</text>
<text class="tk" x="210.94" y="368.05" textLength="3.91" lengthAdjust="spacingAndGlyphs">2</text>
<text class="tk" x="224.13" y="368.05" textLength="3.91" lengthAdjust="spacingAndGlyphs">4</text>
<text class="tk" x="237.32" y="368.05" textLength="3.91" lengthAdjust="spacingAndGlyphs">6</text>
<text class="tk" x="250.51" y="368.05" textLength="3.91" lengthAdjust="spacingAndGlyphs">8</text>
<text class="tk" x="263.69" y="368.05" textLength="7.83" lengthAdjust="spacingAndGlyphs">10</text>
<text class="tk" x="276.88" y="368.05" textLength="7.83" lengthAdjust="spacingAndGlyphs">12</text>
<text class="tk" x="290.07" y="368.05" textLength="7.83" lengthAdjust="spacingAndGlyphs">14</text>
<text class="tk" x="303.26" y="368.05" textLength="7.83" lengthAdjust="spacingAndGlyphs">16</text>
<text class="tk" x="316.45" y="368.05" textLength="7.83" lengthAdjust="spacingAndGlyphs">18</text>
<text class="al" x="257.1" y="377.85" textLength="49.94" lengthAdjust="spacingAndGlyphs">block index</text>
</g>
<g>
<path class="gr" d="M350.4 257.25V358.65M364.36 257.25V358.65M378.33 257.25V358.65M392.29 257.25V358.65M406.26 257.25V358.65M420.22 257.25V358.65M434.19 257.25V358.65M448.15 257.25V358.65M462.12 257.25V358.65M347.7 341.75H471.8M347.7 324.85H471.8M347.7 307.95H471.8M347.7 291.05H471.8M347.7 274.15H471.8"/>
<polyline class="dt" points="350.4,330.87 357.38,320.5 364.36,313.25 371.35,307.67 378.33,303.13 385.31,299.3 392.29,296 399.28,293.09 406.26,290.49 413.24,288.14 420.22,285.99 427.21,284.02 434.19,282.2 441.17,280.51 448.15,278.92 455.14,277.43 462.12,276.03 469.1,274.7"/>
<polyline class="ln" points="350.4,328.11 357.38,328.11 364.36,311.21 371.35,311.21 378.33,311.21 385.31,311.21 392.29,286.54 399.28,286.54 406.26,286.54 413.24,286.54 420.22,286.54 427.21,286.54 434.19,286.54 441.17,286.54 448.15,286.54 455.14,286.54 462.12,286.54 469.1,264.65"/>
<circle class="mk" cx="350.4" cy="328.11" r="2"/>
<circle class="mb" cx="357.38" cy="328.11" r="2.2"/>
<circle class="mk" cx="364.36" cy="311.21" r="2"/>
<circle class="mb" cx="371.35" cy="311.21" r="2.2"/>
<circle class="mb" cx="378.33" cy="311.21" r="2.2"/>
<circle class="mb" cx="385.31" cy="311.21" r="2.2"/>
<circle class="mk" cx="392.29" cy="286.54" r="2"/>
<circle class="mb" cx="399.28" cy="286.54" r="2.2"/>
<circle class="mb" cx="406.26" cy="286.54" r="2.2"/>
<circle class="mb" cx="413.24" cy="286.54" r="2.2"/>
<circle class="mb" cx="420.22" cy="286.54" r="2.2"/>
<circle class="mb" cx="427.21" cy="286.54" r="2.2"/>
<circle class="mb" cx="434.19" cy="286.54" r="2.2"/>
<circle class="mb" cx="441.17" cy="286.54" r="2.2"/>
<circle class="mb" cx="448.15" cy="286.54" r="2.2"/>
<circle class="mb" cx="455.14" cy="286.54" r="2.2"/>
<circle class="mb" cx="462.12" cy="286.54" r="2.2"/>
<circle class="mk" cx="469.1" cy="264.65" r="2"/>
<rect class="lb" x="353.34" y="314.45" width="114.56" height="40.4" rx="1.2" ry="1.2"/>
<text class="lg" x="356.34" y="322.95" textLength="56.88" lengthAdjust="spacingAndGlyphs"><tspan class="it">d</tspan><tspan class="sb" dy="1.6">i</tspan><tspan dy="-1.6"> = [2, 4, 11, 1]</tspan></text>
<text class="lg" x="356.34" y="331.95" textLength="101.2" lengthAdjust="spacingAndGlyphs"><tspan class="it">w</tspan><tspan class="sb" dy="1.6">i</tspan><tspan dy="-1.6"> = [224, 448, 1232, 3024]</tspan></text>
<text class="lg" x="356.34" y="340.95" textLength="93.26" lengthAdjust="spacingAndGlyphs"><tspan class="it">g</tspan> = 112, <tspan class="it">b</tspan> = 1, <tspan class="it">e</tspan> = 19.5%</text>
<text class="lg" x="356.34" y="349.95" textLength="107.46" lengthAdjust="spacingAndGlyphs"><tspan class="it">w</tspan><tspan class="sb" dy="1.6">a</tspan><tspan dy="-1.6"> = 106, </tspan><tspan class="it">w</tspan><tspan class="sb" dy="1.6">0</tspan><tspan dy="-1.6"> = 200, </tspan><tspan class="it">w</tspan><tspan class="sb" dy="1.6">m</tspan><tspan dy="-1.6"> = 2.5</tspan></text>
<rect class="sp" x="347.7" y="257.25" width="124.1" height="101.4"/>
<text class="tt" x="409.75" y="267.85" textLength="72.02" lengthAdjust="spacingAndGlyphs">RegNetY-16GF</text>
<text class="tk te" x="342.9" y="361.35" textLength="7.83" lengthAdjust="spacingAndGlyphs">64</text>
<text class="tk te" x="342.9" y="344.45" textLength="11.74" lengthAdjust="spacingAndGlyphs">128</text>
<text class="tk te" x="342.9" y="327.55" textLength="11.74" lengthAdjust="spacingAndGlyphs">256</text>
<text class="tk te" x="342.9" y="310.65" textLength="11.74" lengthAdjust="spacingAndGlyphs">512</text>
<text class="tk te" x="342.9" y="293.75" textLength="15.65" lengthAdjust="spacingAndGlyphs">1024</text>
<text class="tk te" x="342.9" y="276.85" textLength="15.65" lengthAdjust="spacingAndGlyphs">2048</text>
<text class="tk te" x="342.9" y="259.95" textLength="15.65" lengthAdjust="spacingAndGlyphs">4096</text>
<text class="tk" x="350.4" y="368.05" textLength="3.91" lengthAdjust="spacingAndGlyphs">0</text>
<text class="tk" x="364.36" y="368.05" textLength="3.91" lengthAdjust="spacingAndGlyphs">2</text>
<text class="tk" x="378.33" y="368.05" textLength="3.91" lengthAdjust="spacingAndGlyphs">4</text>
<text class="tk" x="392.29" y="368.05" textLength="3.91" lengthAdjust="spacingAndGlyphs">6</text>
<text class="tk" x="406.26" y="368.05" textLength="3.91" lengthAdjust="spacingAndGlyphs">8</text>
<text class="tk" x="420.22" y="368.05" textLength="7.83" lengthAdjust="spacingAndGlyphs">10</text>
<text class="tk" x="434.19" y="368.05" textLength="7.83" lengthAdjust="spacingAndGlyphs">12</text>
<text class="tk" x="448.15" y="368.05" textLength="7.83" lengthAdjust="spacingAndGlyphs">14</text>
<text class="tk" x="462.12" y="368.05" textLength="7.83" lengthAdjust="spacingAndGlyphs">16</text>
<text class="al" x="409.75" y="377.85" textLength="49.94" lengthAdjust="spacingAndGlyphs">block index</text>
</g>
<g>
<path class="gr" d="M503.1 257.25V358.65M515.59 257.25V358.65M528.09 257.25V358.65M540.58 257.25V358.65M553.08 257.25V358.65M565.57 257.25V358.65M578.07 257.25V358.65M590.56 257.25V358.65M603.06 257.25V358.65M615.55 257.25V358.65M500.4 341.75H624.5M500.4 324.85H624.5M500.4 307.95H624.5M500.4 291.05H624.5M500.4 274.15H624.5"/>
<polyline class="dt" points="503.1,327.25 509.35,317.36 515.59,310.35 521.84,304.91 528.09,300.46 534.34,296.71 540.58,293.45 546.83,290.58 553.08,288.01 559.33,285.69 565.57,283.56 571.82,281.61 578.07,279.81 584.32,278.12 590.56,276.55 596.81,275.07 603.06,273.68 609.31,272.36 615.55,271.11 621.8,269.92"/>
<polyline class="ln" points="503.1,327.25 509.35,327.25 515.59,300.46 521.84,300.46 528.09,300.46 534.34,300.46 540.58,300.46 546.83,283.56 553.08,283.56 559.33,283.56 565.57,283.56 571.82,283.56 578.07,283.56 584.32,283.56 590.56,283.56 596.81,283.56 603.06,283.56 609.31,283.56 615.55,283.56 621.8,259.65"/>
<circle class="mk" cx="503.1" cy="327.25" r="2"/>
<circle class="mb" cx="509.35" cy="327.25" r="2.2"/>
<circle class="mk" cx="515.59" cy="300.46" r="2"/>
<circle class="mb" cx="521.84" cy="300.46" r="2.2"/>
<circle class="mb" cx="528.09" cy="300.46" r="2.2"/>
<circle class="mb" cx="534.34" cy="300.46" r="2.2"/>
<circle class="mb" cx="540.58" cy="300.46" r="2.2"/>
<circle class="mk" cx="546.83" cy="283.56" r="2"/>
<circle class="mb" cx="553.08" cy="283.56" r="2.2"/>
<circle class="mb" cx="559.33" cy="283.56" r="2.2"/>
<circle class="mb" cx="565.57" cy="283.56" r="2.2"/>
<circle class="mb" cx="571.82" cy="283.56" r="2.2"/>
<circle class="mb" cx="578.07" cy="283.56" r="2.2"/>
<circle class="mb" cx="584.32" cy="283.56" r="2.2"/>
<circle class="mb" cx="590.56" cy="283.56" r="2.2"/>
<circle class="mb" cx="596.81" cy="283.56" r="2.2"/>
<circle class="mb" cx="603.06" cy="283.56" r="2.2"/>
<circle class="mb" cx="609.31" cy="283.56" r="2.2"/>
<circle class="mb" cx="615.55" cy="283.56" r="2.2"/>
<circle class="mk" cx="621.8" cy="259.65" r="2"/>
<rect class="lb" x="506.04" y="314.45" width="114.56" height="40.4" rx="1.2" ry="1.2"/>
<text class="lg" x="509.04" y="322.95" textLength="56.88" lengthAdjust="spacingAndGlyphs"><tspan class="it">d</tspan><tspan class="sb" dy="1.6">i</tspan><tspan dy="-1.6"> = [2, 5, 12, 1]</tspan></text>
<text class="lg" x="509.04" y="331.95" textLength="101.07" lengthAdjust="spacingAndGlyphs"><tspan class="it">w</tspan><tspan class="sb" dy="1.6">i</tspan><tspan dy="-1.6"> = [232, 696, 1392, 3712]</tspan></text>
<text class="lg" x="509.04" y="340.95" textLength="93.26" lengthAdjust="spacingAndGlyphs"><tspan class="it">g</tspan> = 232, <tspan class="it">b</tspan> = 1, <tspan class="it">e</tspan> = 19.0%</text>
<text class="lg" x="509.04" y="349.95" textLength="107.46" lengthAdjust="spacingAndGlyphs"><tspan class="it">w</tspan><tspan class="sb" dy="1.6">a</tspan><tspan dy="-1.6"> = 116, </tspan><tspan class="it">w</tspan><tspan class="sb" dy="1.6">0</tspan><tspan dy="-1.6"> = 232, </tspan><tspan class="it">w</tspan><tspan class="sb" dy="1.6">m</tspan><tspan dy="-1.6"> = 2.5</tspan></text>
<rect class="sp" x="500.4" y="257.25" width="124.1" height="101.4"/>
<text class="tt" x="562.45" y="267.85" textLength="72.02" lengthAdjust="spacingAndGlyphs">RegNetY-32GF</text>
<text class="tk te" x="495.6" y="361.35" textLength="7.83" lengthAdjust="spacingAndGlyphs">64</text>
<text class="tk te" x="495.6" y="344.45" textLength="11.74" lengthAdjust="spacingAndGlyphs">128</text>
<text class="tk te" x="495.6" y="327.55" textLength="11.74" lengthAdjust="spacingAndGlyphs">256</text>
<text class="tk te" x="495.6" y="310.65" textLength="11.74" lengthAdjust="spacingAndGlyphs">512</text>
<text class="tk te" x="495.6" y="293.75" textLength="15.65" lengthAdjust="spacingAndGlyphs">1024</text>
<text class="tk te" x="495.6" y="276.85" textLength="15.65" lengthAdjust="spacingAndGlyphs">2048</text>
<text class="tk te" x="495.6" y="259.95" textLength="15.65" lengthAdjust="spacingAndGlyphs">4096</text>
<text class="tk" x="503.1" y="368.05" textLength="3.91" lengthAdjust="spacingAndGlyphs">0</text>
<text class="tk" x="515.59" y="368.05" textLength="3.91" lengthAdjust="spacingAndGlyphs">2</text>
<text class="tk" x="528.09" y="368.05" textLength="3.91" lengthAdjust="spacingAndGlyphs">4</text>
<text class="tk" x="540.58" y="368.05" textLength="3.91" lengthAdjust="spacingAndGlyphs">6</text>
<text class="tk" x="553.08" y="368.05" textLength="3.91" lengthAdjust="spacingAndGlyphs">8</text>
<text class="tk" x="565.57" y="368.05" textLength="7.83" lengthAdjust="spacingAndGlyphs">10</text>
<text class="tk" x="578.07" y="368.05" textLength="7.83" lengthAdjust="spacingAndGlyphs">12</text>
<text class="tk" x="590.56" y="368.05" textLength="7.83" lengthAdjust="spacingAndGlyphs">14</text>
<text class="tk" x="603.06" y="368.05" textLength="7.83" lengthAdjust="spacingAndGlyphs">16</text>
<text class="tk" x="615.55" y="368.05" textLength="7.83" lengthAdjust="spacingAndGlyphs">18</text>
<text class="al" x="562.45" y="377.85" textLength="49.94" lengthAdjust="spacingAndGlyphs">block index</text>
</g>
</svg>
<svg width="642" height="357" viewBox="0 388 642 357">
<rect x="0" y="388" width="642" height="357" fill="#fff"/>
<path class="hr" d="M14.2 436.4H625.6"/>
<path class="vr" d="M158.5 395.7V677.3M361.5 395.7V677.3M552.9 395.7V677.3"/>
<text class="tb m" x="190.5" y="410">flops</text><text class="tb m" x="190.5" y="430">(B)</text>
<text class="tb m" x="261.4" y="410">params</text><text class="tb m" x="261.4" y="430">(M)</text>
<text class="tb m" x="330.7" y="410">acts</text><text class="tb m" x="330.7" y="430">(M)</text>
<text class="tb m" x="395" y="410">batch</text><text class="tb m" x="395" y="430">size</text>
<text class="tb m" x="459.5" y="410">infer</text><text class="tb m" x="459.5" y="430">(ms)</text>
<text class="tb m" x="521.5" y="410">train</text><text class="tb m" x="521.5" y="430">(hr)</text>
<text class="tb m" x="597.2" y="410">error</text><text class="tb m" x="597.2" y="430">(top-1)</text>
<text class="tb" x="14.4" y="452" textLength="127.6" lengthAdjust="spacing">R<tspan class="sc">EG</tspan>N<tspan class="sc">ET</tspan>Y-200MF</text>
<text class="tb m" x="190.5" y="452">0.2</text>
<text class="tb m" x="261.4" y="452">3.2</text>
<text class="tb m" x="330.7" y="452">2.2</text>
<text class="tb m" x="395" y="452">1024</text>
<text class="tb m" x="459.5" y="452">11</text>
<text class="tb m" x="521.5" y="452">3.1</text>
<text class="tb e" x="597.3" y="452">29.6</text><text class="pm" x="597.9" y="452">±0.11</text>
<text class="tb" x="14.4" y="472" textLength="127.6" lengthAdjust="spacing">R<tspan class="sc">EG</tspan>N<tspan class="sc">ET</tspan>Y-400MF</text>
<text class="tb m" x="190.5" y="472">0.4</text>
<text class="tb m" x="261.4" y="472">4.3</text>
<text class="tb m" x="330.7" y="472">3.9</text>
<text class="tb m" x="395" y="472">1024</text>
<text class="tb m" x="459.5" y="472">19</text>
<text class="tb m" x="521.5" y="472">5.1</text>
<text class="tb e" x="597.3" y="472">25.9</text><text class="pm" x="597.9" y="472">±0.16</text>
<text class="tb" x="14.4" y="492" textLength="127.6" lengthAdjust="spacing">R<tspan class="sc">EG</tspan>N<tspan class="sc">ET</tspan>Y-600MF</text>
<text class="tb m" x="190.5" y="492">0.6</text>
<text class="tb m" x="261.4" y="492">6.1</text>
<text class="tb m" x="330.7" y="492">4.3</text>
<text class="tb m" x="395" y="492">1024</text>
<text class="tb m" x="459.5" y="492">19</text>
<text class="tb m" x="521.5" y="492">5.2</text>
<text class="tb e" x="597.3" y="492">24.5</text><text class="pm" x="597.9" y="492">±0.07</text>
<text class="tb" x="14.4" y="512" textLength="127.6" lengthAdjust="spacing">R<tspan class="sc">EG</tspan>N<tspan class="sc">ET</tspan>Y-800MF</text>
<text class="tb m" x="190.5" y="512">0.8</text>
<text class="tb m" x="261.4" y="512">6.3</text>
<text class="tb m" x="330.7" y="512">5.2</text>
<text class="tb m" x="395" y="512">1024</text>
<text class="tb m" x="459.5" y="512">22</text>
<text class="tb m" x="521.5" y="512">6.0</text>
<text class="tb e" x="597.3" y="512">23.7</text><text class="pm" x="597.9" y="512">±0.03</text>
<text class="tb" x="14.4" y="532" textLength="120.8" lengthAdjust="spacing">R<tspan class="sc">EG</tspan>N<tspan class="sc">ET</tspan>Y-1.6GF</text>
<text class="tb m" x="190.5" y="532">1.6</text>
<text class="tb m" x="261.4" y="532">11.2</text>
<text class="tb m" x="330.7" y="532">8.0</text>
<text class="tb m" x="395" y="532">1024</text>
<text class="tb m" x="459.5" y="532">39</text>
<text class="tb m" x="521.5" y="532">10.1</text>
<text class="tb e" x="597.3" y="532">22.0</text><text class="pm" x="597.9" y="532">±0.08</text>
<text class="tb" x="14.4" y="552" textLength="120.8" lengthAdjust="spacing">R<tspan class="sc">EG</tspan>N<tspan class="sc">ET</tspan>Y-3.2GF</text>
<text class="tb m" x="190.5" y="552">3.2</text>
<text class="tb m" x="261.4" y="552">19.4</text>
<text class="tb m" x="330.7" y="552">11.3</text>
<text class="tb m" x="395" y="552">512</text>
<text class="tb m" x="459.5" y="552">67</text>
<text class="tb m" x="521.5" y="552">16.5</text>
<text class="tb e" x="597.3" y="552">21.0</text><text class="pm" x="597.9" y="552">±0.05</text>
<text class="tb" x="14.4" y="572" textLength="120.8" lengthAdjust="spacing">R<tspan class="sc">EG</tspan>N<tspan class="sc">ET</tspan>Y-4.0GF</text>
<text class="tb m" x="190.5" y="572">4.0</text>
<text class="tb m" x="261.4" y="572">20.6</text>
<text class="tb m" x="330.7" y="572">12.3</text>
<text class="tb m" x="395" y="572">512</text>
<text class="tb m" x="459.5" y="572">68</text>
<text class="tb m" x="521.5" y="572">16.8</text>
<text class="tb e" x="597.3" y="572">20.6</text><text class="pm" x="597.9" y="572">±0.08</text>
<text class="tb" x="14.4" y="592" textLength="120.8" lengthAdjust="spacing">R<tspan class="sc">EG</tspan>N<tspan class="sc">ET</tspan>Y-6.4GF</text>
<text class="tb m" x="190.5" y="592">6.4</text>
<text class="tb m" x="261.4" y="592">30.6</text>
<text class="tb m" x="330.7" y="592">16.4</text>
<text class="tb m" x="395" y="592">512</text>
<text class="tb m" x="459.5" y="592">104</text>
<text class="tb m" x="521.5" y="592">26.1</text>
<text class="tb e" x="597.3" y="592">20.1</text><text class="pm" x="597.9" y="592">±0.04</text>
<text class="tb" x="14.4" y="612" textLength="120.8" lengthAdjust="spacing">R<tspan class="sc">EG</tspan>N<tspan class="sc">ET</tspan>Y-8.0GF</text>
<text class="tb m" x="190.5" y="612">8.0</text>
<text class="tb m" x="261.4" y="612">39.2</text>
<text class="tb m" x="330.7" y="612">18.0</text>
<text class="tb m" x="395" y="612">512</text>
<text class="tb m" x="459.5" y="612">113</text>
<text class="tb m" x="521.5" y="612">28.1</text>
<text class="tb e" x="597.3" y="612">20.1</text><text class="pm" x="597.9" y="612">±0.09</text>
<text class="tb" x="14.4" y="632" textLength="116.1" lengthAdjust="spacing">R<tspan class="sc">EG</tspan>N<tspan class="sc">ET</tspan>Y-12GF</text>
<text class="tb m" x="190.5" y="632">12.1</text>
<text class="tb m" x="261.4" y="632">51.8</text>
<text class="tb m" x="330.7" y="632">21.4</text>
<text class="tb m" x="395" y="632">512</text>
<text class="tb m" x="459.5" y="632">150</text>
<text class="tb m" x="521.5" y="632">36.0</text>
<text class="tb e" x="597.3" y="632">19.7</text><text class="pm" x="597.9" y="632">±0.06</text>
<text class="tb" x="14.4" y="652" textLength="116.1" lengthAdjust="spacing">R<tspan class="sc">EG</tspan>N<tspan class="sc">ET</tspan>Y-16GF</text>
<text class="tb m" x="190.5" y="652">15.9</text>
<text class="tb m" x="261.4" y="652">83.6</text>
<text class="tb m" x="330.7" y="652">23.0</text>
<text class="tb m" x="395" y="652">512</text>
<text class="tb m" x="459.5" y="652">189</text>
<text class="tb m" x="521.5" y="652">45.6</text>
<text class="tb e" x="597.3" y="652">19.6</text><text class="pm" x="597.9" y="652">±0.16</text>
<text class="tb" x="14.4" y="672" textLength="116.1" lengthAdjust="spacing">R<tspan class="sc">EG</tspan>N<tspan class="sc">ET</tspan>Y-32GF</text>
<text class="tb m" x="190.5" y="672">32.3</text>
<text class="tb m" x="261.4" y="672">145.0</text>
<text class="tb m" x="330.7" y="672">30.3</text>
<text class="tb m" x="395" y="672">256</text>
<text class="tb m" x="459.5" y="672">319</text>
<text class="tb m" x="521.5" y="672">76.0</text>
<text class="tb e" x="597.3" y="672">19.0</text><text class="pm" x="597.9" y="672">±0.12</text>
<text class="cp" x="10.7" y="703" textLength="96.6" lengthAdjust="spacingAndGlyphs">Figure 16.</text>
<text class="cp bd" x="115.7" y="703" textLength="37.6" lengthAdjust="spacingAndGlyphs">Top</text>
<text class="cp bd" x="162.3" y="703" textLength="106.7" lengthAdjust="spacingAndGlyphs">R<tspan class="sc2">EG</tspan>N<tspan class="sc2">ET</tspan>Y</text>
<text class="cp bd" x="280" y="703" textLength="69" lengthAdjust="spacingAndGlyphs">models</text>
<text class="cp" x="357.8" y="703" textLength="7.4" lengthAdjust="spacingAndGlyphs">(</text>
<text class="mn" x="365.7" y="703" textLength="82" lengthAdjust="spacingAndGlyphs">Y=X+SE</text>
<text class="cp" x="448.3" y="703" textLength="13.7" lengthAdjust="spacingAndGlyphs">).</text>
<text class="cp" x="472" y="703" textLength="34" lengthAdjust="spacingAndGlyphs">The</text>
<text class="cp" x="515.3" y="703" textLength="110.4" lengthAdjust="spacingAndGlyphs">benchmark-</text>
<text class="cp" x="10.9" y="731" textLength="511.4" lengthAdjust="spacingAndGlyphs">ing setup and the figure format is the same as in Figure</text>
<text class="cp rd" x="530.5" y="731" textLength="21.9" lengthAdjust="spacingAndGlyphs">15</text>
<text class="cp" x="552.9" y="731" textLength="4.7" lengthAdjust="spacingAndGlyphs">.</text>
</svg>
</body></html>
